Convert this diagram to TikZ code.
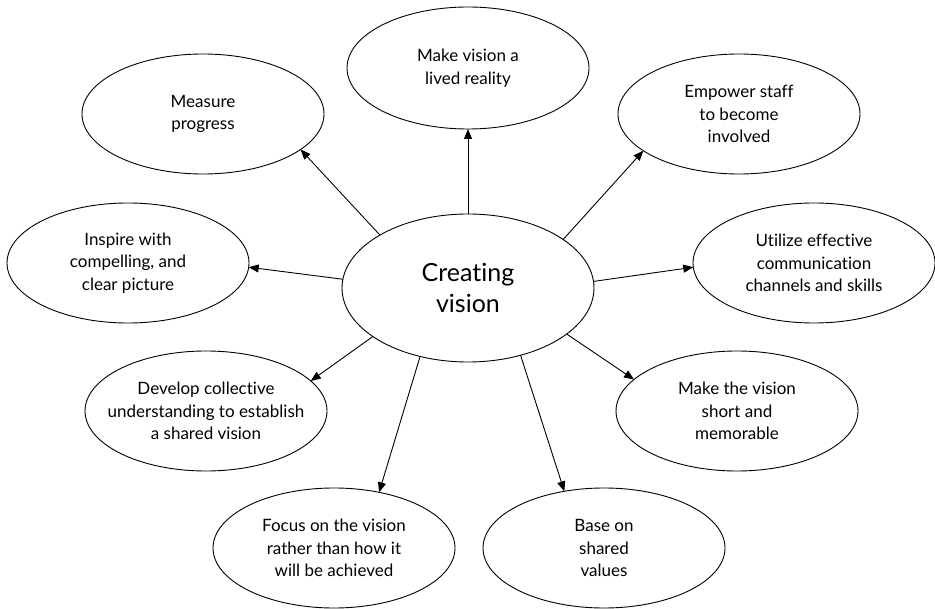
\documentclass[tikz,border=0pt]{standalone}
\usepackage{fontspec}
\setmainfont{Lato}[Ligatures=NoCommon]
\usetikzlibrary{shapes.geometric,arrows.meta}
\begin{document}
\begin{tikzpicture}[x=1pt,y=-1pt,
  oval/.style={ellipse, draw, line width=0.9pt, minimum width=242pt, minimum height=120pt,
               inner sep=0pt, outer sep=0pt},
  txt/.style={align=center, font=\fontsize{17}{22.5}\selectfont, inner sep=0pt},
  bigtxt/.style={align=center, font=\fontsize{25}{31}\selectfont, inner sep=0pt},
  link/.style={line width=0.9pt, -{Triangle[length=10pt,width=8pt]}}]
\useasboundingbox (0,0) rectangle (935,609);

% central idea
\node[oval, minimum width=252pt, minimum height=148pt,
      label={[bigtxt]center:Creating\\vision}] (c) at (468,288) {};

% surrounding ideas
\node[oval, minimum height=122pt, label={[txt]center:Make vision a\\lived reality}] (top) at (468,68) {};
\node[oval, label={[txt]center:Measure\\progress}] (meas) at (203,114) {};
\node[oval, label={[txt]center:Empower staff\\to become\\involved}] (emp) at (739,114) {};
\node[oval, label={[txt]center:Inspire with\\compelling, and\\clear picture}] (insp) at (128,263) {};
\node[oval, label={[txt]center:Utilize effective\\communication\\channels and skills}] (util) at (814,263) {};
\node[oval, label={[txt]center:Develop collective\\understanding to establish\\a shared vision}] (dev) at (206,411) {};
\node[oval, label={[txt]center:Make the vision\\short and\\memorable}] (short) at (737,411) {};
\node[oval, label={[txt]center:Focus on the vision\\rather than how it\\will be achieved}] (focus) at (334,548) {};
\node[oval, label={[txt]center:Base on\\shared\\values}] (base) at (604,548) {};

% connectors
\draw[link] (c.north) -- (top.south);
\draw[link] (c.149.2) -- (meas.-20.3);
\draw[link] (c.176.7) -- (insp.-2.8);
\draw[link] (c.27.5) -- (emp.201.4);
\draw[link] (c.3.2) -- (util.182.8);
\draw[link] (c.207.5) -- (dev.16.6);
\draw[link] (c.235.9) -- (focus.51.7);
\draw[link] (c.-25.9) -- (short.163.1);
\draw[link] (c.-52.9) -- (base.125.1);
\end{tikzpicture}
\end{document}
